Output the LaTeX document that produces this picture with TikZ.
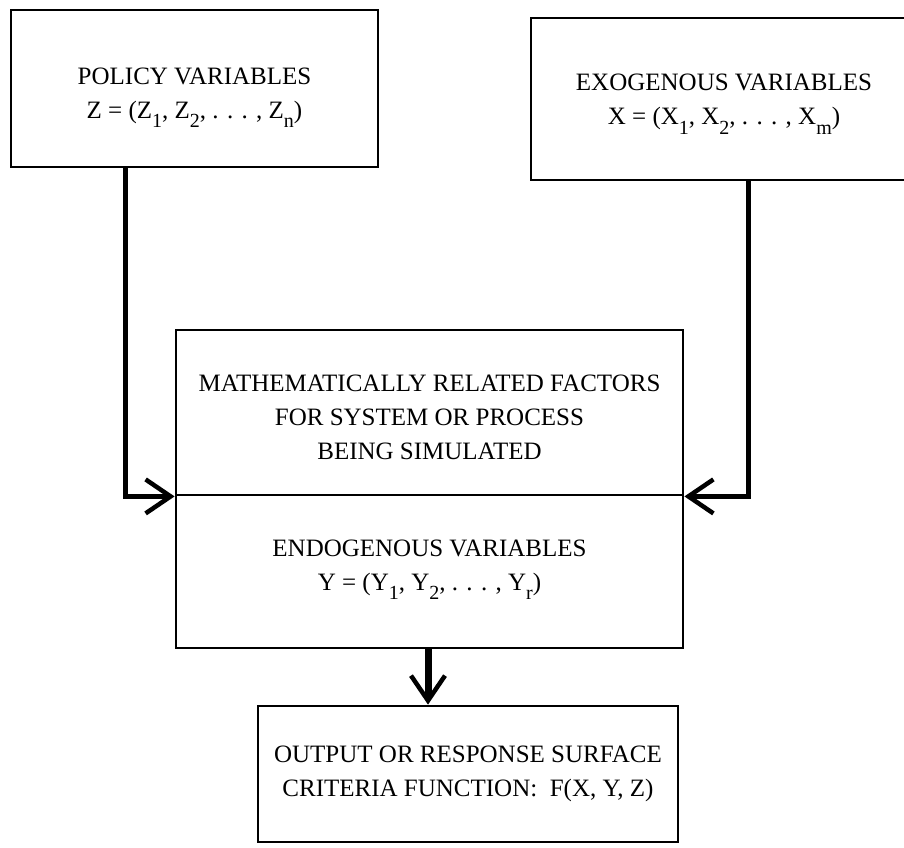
\documentclass[tikz,border=0pt]{standalone}
\usepackage{fontspec}
\setmainfont{Liberation Serif}
\usetikzlibrary{arrows.meta}
% lowered subscript in text size
\newcommand\lowsub[1]{\raisebox{-0.38em}{\fontsize{20}{20}\selectfont #1}}

\begin{document}
\begin{tikzpicture}[x=1pt,y=-1pt,
  box/.style={draw, line width=2.8pt, inner sep=0pt},
  txt/.style={inner sep=0pt, align=center, font=\fontsize{25}{34}\selectfont},
  arr/.style={line width=5pt,
    -{Straight Barb[length=25pt,width=34pt,line width=4.5pt]}},
]
\useasboundingbox (0,0) rectangle (904,847);
\clip (0,0) rectangle (904,847);

% boxes
\node[box, minimum width=367pt, minimum height=157pt] (policy) at (194.5,88.5) {};
\node[box, minimum width=386pt, minimum height=162pt] (exo) at (724,99) {};
\node[box, minimum width=507pt, minimum height=165pt] (factors) at (429.5,412.5) {};
\node[box, minimum width=507pt, minimum height=153pt] (endo) at (429.5,571.5) {};
\node[box, minimum width=420pt, minimum height=136pt] (output) at (468,774) {};

% box texts
\node[txt, yshift=-9pt] (policytext) at (policy.center)
  {POLICY VARIABLES\\Z = (Z\lowsub{1}, Z\lowsub{2}, . . . , Z\lowsub{n})};
\node[txt, yshift=-5pt] (exotext) at (exo.center)
  {EXOGENOUS VARIABLES\\X = (X\lowsub{1}, X\lowsub{2}, . . . , X\lowsub{m})};
\node[txt, yshift=-5pt] (factorstext) at (factors.center)
  {MATHEMATICALLY RELATED FACTORS\\FOR SYSTEM OR PROCESS\\BEING SIMULATED};
\node[txt, yshift=2pt] (endotext) at (endo.center)
  {ENDOGENOUS VARIABLES\\Y = (Y\lowsub{1}, Y\lowsub{2}, . . . , Y\lowsub{r})};
\node[txt] (outputtext) at (output.center)
  {OUTPUT OR RESPONSE SURFACE\\CRITERIA FUNCTION:\ \ F(X, Y, Z)};

% connectors
\coordinate (lbend) at (125,495);
\coordinate (rbend) at (748,495);
\coordinate (dn) at (428,0);
\draw[arr] (policy.south -| lbend) |- (factors.south west);
\draw[arr] (exo.south -| rbend) |- (factors.south east);
\draw[arr, line width=7pt] (endo.south -| dn) -- (output.north -| dn);
\end{tikzpicture}
\end{document}
